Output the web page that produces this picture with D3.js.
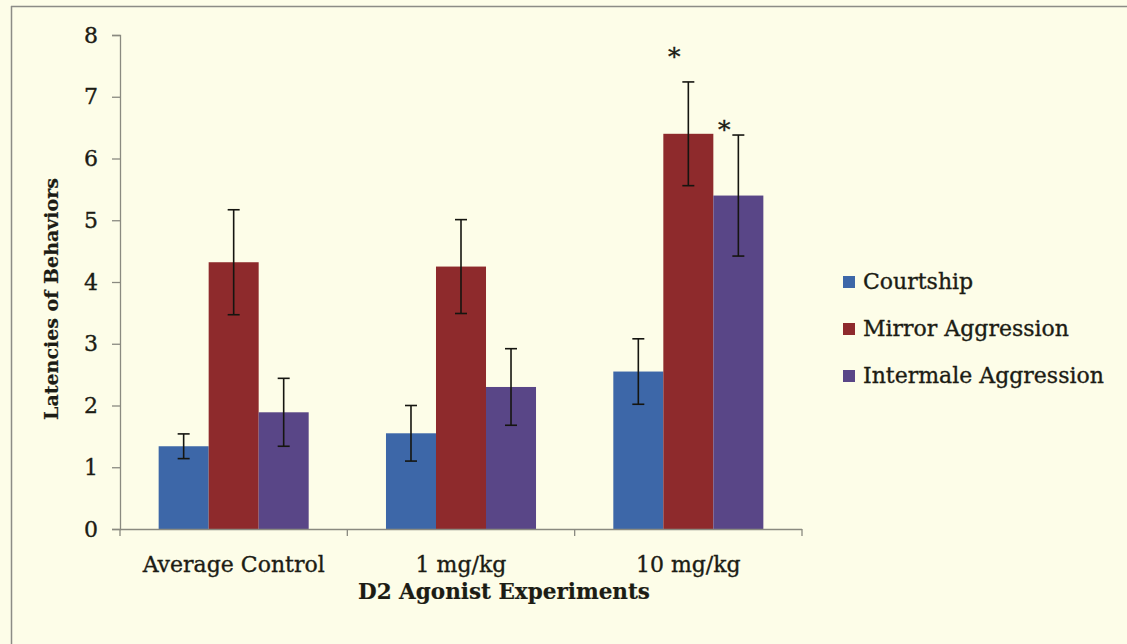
<!DOCTYPE html>
<html>
<head>
<meta charset="utf-8">
<script src="https://cdn.jsdelivr.net/npm/d3@7/dist/d3.min.js"></script>
<style>
  html, body { margin: 0; padding: 0; background: #fdfde8; overflow: hidden; }
  svg { display: block; }
</style>
</head>
<body>
<svg id="chart" width="1127" height="644"></svg>
<script>
// ---- data ----
const categories = ["Average Control", "1 mg/kg", "10 mg/kg"];
const seriesNames = ["Courtship", "Mirror Aggression", "Intermale Aggression"];
const courtship = [1.34, 1.55, 2.55];
const mirrorAggression = [4.32, 4.25, 6.40];
const intermaleAggression = [1.89, 2.30, 5.40];
const courtshipErr = [0.20, 0.45, 0.53];
const mirrorErr = [0.85, 0.76, 0.84];
const intermaleErr = [0.55, 0.62, 0.98];
const yTicks = [0, 1, 2, 3, 4, 5, 6, 7, 8];
// significance markers: category index, series index, label height (data units)
const starCategory = [2, 2];
const starSeries = [1, 2];
const starLevel = [7.76, 6.57];
const xTitle = "D2 Agonist Experiments";
const yTitle = "Latencies of Behaviors";

const values = [courtship, mirrorAggression, intermaleAggression];
const errors = [courtshipErr, mirrorErr, intermaleErr];
const colors = ["#3d67a8", "#8e2a2c", "#594687"];

const font = "'DejaVu Serif', serif";
const textColor = "#1c1c14";
const axisColor = "#8a8a80";

const svg = d3.select("#chart");

// outer frame (only top and left edges visible)
svg.append("rect")
  .attr("x", 0).attr("y", 0).attr("width", 1127).attr("height", 644)
  .attr("fill", "#fdfde8");
svg.append("line")
  .attr("x1", 11).attr("x2", 1127).attr("y1", 6.5).attr("y2", 6.5)
  .attr("stroke", "#8c8c86").attr("stroke-width", 1.5);
svg.append("line")
  .attr("x1", 11.5).attr("x2", 11.5).attr("y1", 6).attr("y2", 644)
  .attr("stroke", "#8c8c86").attr("stroke-width", 1.5);

const plotLeft = 120, plotRight = 802, plotTop = 35, plotBottom = 529;

const y = d3.scaleLinear().domain([0, 8]).range([plotBottom, plotTop]);
const x0 = d3.scaleBand().domain(categories).range([plotLeft, plotRight]).paddingInner(0).paddingOuter(0);
const bw = x0.bandwidth();
const x1 = d3.scaleBand().domain(seriesNames).range([bw * 0.17, bw * 0.83]).paddingInner(0).paddingOuter(0);

// rows of data
const rows = [];
categories.forEach((c, ci) => {
  seriesNames.forEach((s, si) => {
    rows.push({ c, s, ci, si, v: values[si][ci], e: errors[si][ci] });
  });
});

// bars
svg.append("g").selectAll("rect")
  .data(rows).join("rect")
  .attr("x", d => x0(d.c) + x1(d.s))
  .attr("y", d => y(d.v))
  .attr("width", x1.bandwidth())
  .attr("height", d => y(0) - y(d.v))
  .attr("fill", d => colors[d.si]);

// error bars
const eg = svg.append("g").attr("stroke", "#151510").attr("stroke-width", 1.6);
rows.forEach(d => {
  const cx = x0(d.c) + x1(d.s) + x1.bandwidth() / 2;
  const t = y(d.v + d.e), b = y(d.v - d.e);
  eg.append("line").attr("x1", cx).attr("x2", cx).attr("y1", t).attr("y2", b);
  eg.append("line").attr("x1", cx - 6).attr("x2", cx + 6).attr("y1", t).attr("y2", t);
  eg.append("line").attr("x1", cx - 6).attr("x2", cx + 6).attr("y1", b).attr("y2", b);
});

function styleText(sel, size, bold) {
  sel.attr("font-family", font).attr("font-size", size)
    .attr("font-weight", bold ? "bold" : "normal")
    .attr("fill", textColor)
    .attr("stroke", textColor).attr("stroke-width", bold ? 0.2 : 0.35);
}

// y axis
const yAxis = svg.append("g")
  .attr("transform", `translate(${plotLeft},0)`)
  .call(d3.axisLeft(y).tickValues(yTicks).tickSize(8).tickPadding(14).tickFormat(d3.format("d")));
yAxis.select(".domain").attr("stroke", axisColor).attr("stroke-width", 1.3);
yAxis.selectAll(".tick line").attr("stroke", axisColor).attr("stroke-width", 1.3);
styleText(yAxis.selectAll(".tick text"), 22, false);

// x axis: line, boundary ticks, labels
const xg = svg.append("g");
xg.append("line")
  .attr("x1", plotLeft).attr("x2", plotRight)
  .attr("y1", plotBottom + 0.5).attr("y2", plotBottom + 0.5)
  .attr("stroke", axisColor).attr("stroke-width", 1.3);
const boundaries = categories.map(c => x0(c)).concat([x0.range()[1]]);
xg.selectAll("line.tk").data(boundaries).join("line")
  .attr("class", "tk")
  .attr("x1", d => d).attr("x2", d => d)
  .attr("y1", plotBottom).attr("y2", plotBottom + 7)
  .attr("stroke", axisColor).attr("stroke-width", 1.3);
styleText(xg.selectAll("text").data(categories).join("text")
  .attr("x", d => x0(d) + bw / 2)
  .attr("y", 572)
  .attr("text-anchor", "middle")
  .text(d => d), 22, false);

// axis titles
styleText(svg.append("text")
  .attr("x", 504).attr("y", 599)
  .attr("text-anchor", "middle")
  .text(xTitle), 21.5, true);
styleText(svg.append("text")
  .attr("transform", "translate(58,299) rotate(-90)")
  .attr("text-anchor", "middle")
  .text(yTitle), 19, true);

// significance stars
starCategory.forEach((ci, k) => {
  const cx = x0(categories[ci]) + x1(seriesNames[starSeries[k]]) + x1.bandwidth() / 2 - 14;
  styleText(svg.append("text")
    .attr("x", cx).attr("y", y(starLevel[k]) + 15)
    .attr("text-anchor", "middle")
    .text("*"), 25, false);
});

// legend
const legend = svg.append("g").attr("transform", "translate(843,282)");
seriesNames.forEach((s, i) => {
  const g = legend.append("g").attr("transform", `translate(0,${i * 47})`);
  g.append("rect").attr("x", 0).attr("y", -6).attr("width", 12).attr("height", 12).attr("fill", colors[i]);
  styleText(g.append("text").attr("x", 20).attr("y", 7).text(s), 22, false);
});
</script>
</body>
</html>
